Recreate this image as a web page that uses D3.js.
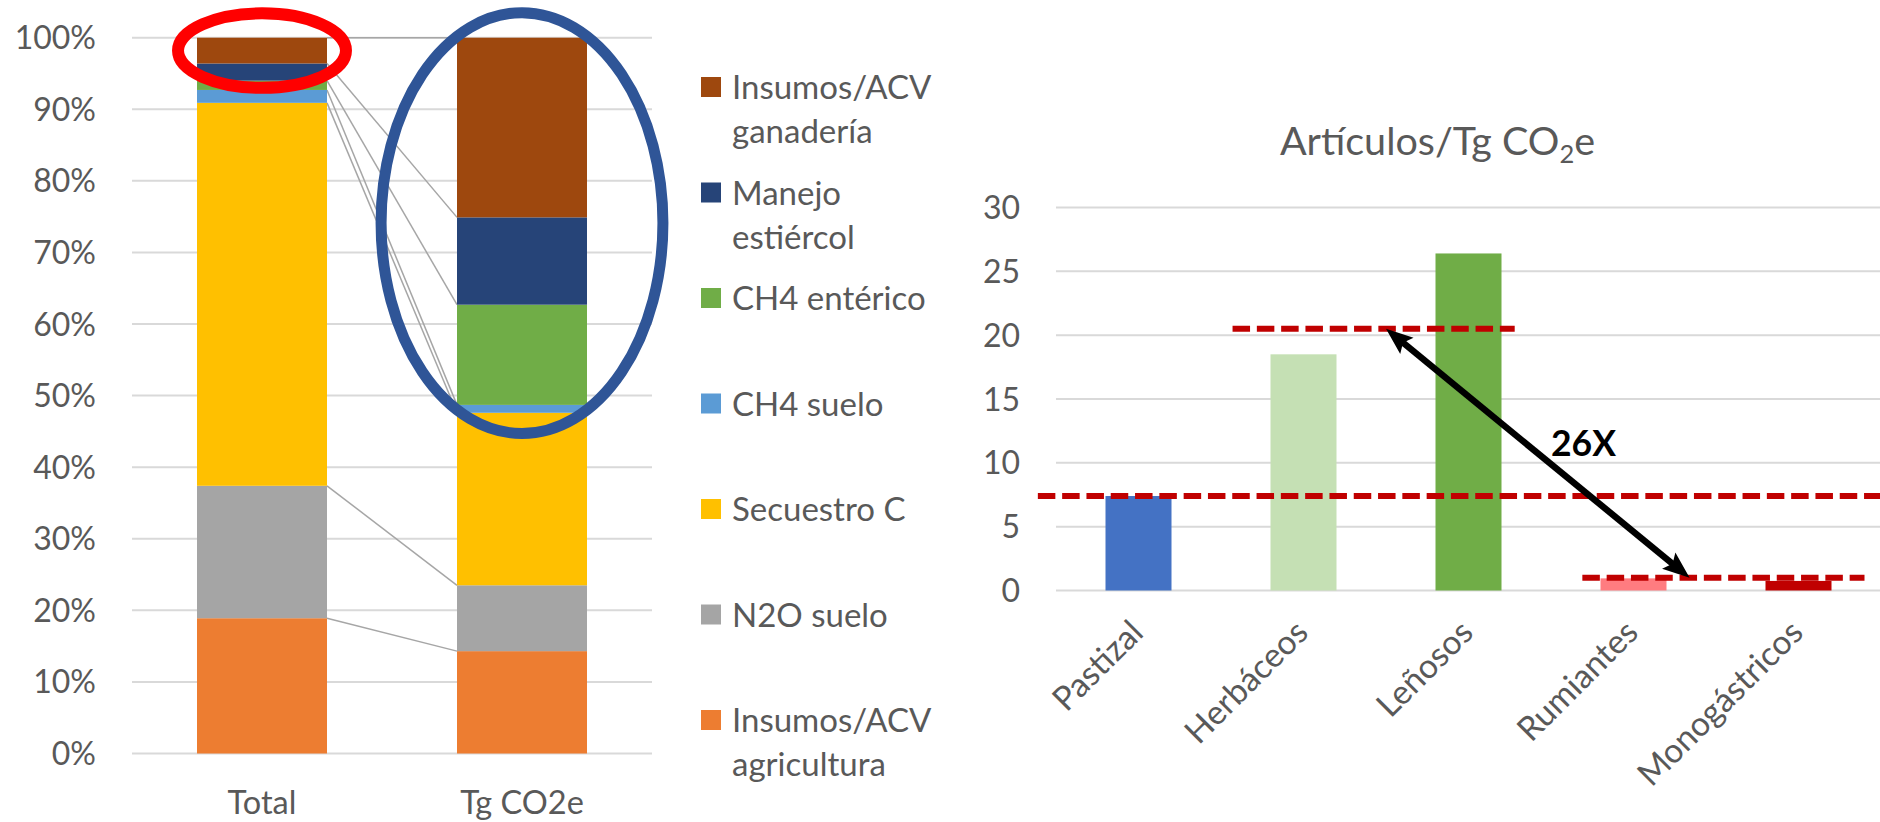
<!DOCTYPE html>
<html>
<head>
<meta charset="utf-8">
<script src="https://cdn.jsdelivr.net/npm/d3@7"></script>
<style>
  html, body { margin: 0; padding: 0; background: #ffffff; }
  svg { display: block; }
  text { font-family: Lato, "Open Sans", sans-serif; fill: #595959; }
</style>
</head>
<body>
<svg id="chart" width="1880" height="822"></svg>
<script>
// ---- Emission shares (percent of each column), bottom to top ----
const stackKeys = ["Insumos/ACV agricultura", "N2O suelo", "Secuestro C", "CH4 suelo",
                   "CH4 entérico", "Manejo estiércol", "Insumos/ACV ganadería"];
const stackColors = ["#ED7D31", "#A5A5A5", "#FFC000", "#5B9BD5", "#70AD47", "#264478", "#9E480E"];
const columnNames = ["Total", "Tg CO2e"];
const shareTotal = [18.9, 18.5, 53.5, 1.8, 1.3, 2.4, 3.6];
const shareTgCO2e = [14.3, 9.2, 24.1, 1.1, 14.0, 12.2, 25.1];
const percentTicks = [0, 10, 20, 30, 40, 50, 60, 70, 80, 90, 100];
// legend entries wrap onto two lines where the label is long (top to bottom)
const legendLines = [["Insumos/ACV", "ganadería"], ["Manejo", "estiércol"], ["CH4 entérico"],
                     ["CH4 suelo"], ["Secuestro C"], ["N2O suelo"], ["Insumos/ACV", "agricultura"]];

// ---- Articles per Tg CO2e by production system ----
const systems = ["Pastizal", "Herbáceos", "Leñosos", "Rumiantes", "Monogástricos"];
const articlesPerTg = [7.4, 18.5, 26.4, 0.95, 0.75];
const systemColors = ["#4472C4", "#C5E0B4", "#70AD47", "#FF7C80", "#C00000"];
const countTicks = [0, 5, 10, 15, 20, 25, 30];

// reference levels (value, start and end expressed in category steps)
const refLevels = [
  { level: 20.5, from: 1.07, to: 2.78 },
  { level: 7.4,  from: -0.11, to: 5.0 },
  { level: 1.0,  from: 3.19, to: 4.9 }
];
const ratioArrow = { from: [2.0, 20.5], to: [3.84, 1.0], label: "26X", labelAt: [3.0, 10.5] };

const svg = d3.select("#chart");

// =================== Left: 100% stacked columns ===================
const xL = d3.scaleBand().domain(columnNames).range([132, 652]).paddingInner(0.5).paddingOuter(0.25);
const yL = d3.scaleLinear().domain([0, 100]).range([753.5, 37.7]);

const left = svg.append("g");
left.selectAll("line.grid").data(percentTicks).join("line")
  .attr("x1", 132).attr("x2", 652)
  .attr("y1", d => yL(d)).attr("y2", d => yL(d))
  .attr("stroke", "#D9D9D9").attr("stroke-width", 2);

left.selectAll("text.tick").data(percentTicks).join("text")
  .attr("x", 96).attr("y", d => yL(d)).attr("dy", "0.36em")
  .attr("text-anchor", "end").style("font-size", "32px")
  .text(d => d + "%");

const rows = columnNames.map((c, i) => {
  const vals = i === 0 ? shareTotal : shareTgCO2e;
  const r = { col: c };
  stackKeys.forEach((k, j) => r[k] = vals[j]);
  return r;
});
const stacked = d3.stack().keys(stackKeys)(rows);

// series lines joining matching segment tops
const xRightOfFirst = xL(columnNames[0]) + xL.bandwidth();
const xLeftOfSecond = xL(columnNames[1]);
left.selectAll("line.series").data(stacked).join("line")
  .attr("x1", xRightOfFirst).attr("x2", xLeftOfSecond)
  .attr("y1", s => yL(s[0][1])).attr("y2", s => yL(s[1][1]))
  .attr("stroke", "#A6A6A6").attr("stroke-width", 1.5);

left.selectAll("g.layer").data(stacked).join("g")
  .attr("fill", (s, i) => stackColors[i])
  .selectAll("rect").data(s => s).join("rect")
  .attr("x", d => xL(d.data.col)).attr("width", xL.bandwidth())
  .attr("y", d => yL(d[1])).attr("height", d => yL(d[0]) - yL(d[1]));

left.selectAll("text.cat").data(columnNames).join("text")
  .attr("x", d => xL(d) + xL.bandwidth() / 2).attr("y", 814)
  .attr("text-anchor", "middle").style("font-size", "32.5px")
  .text(d => d);

// highlight ellipses around the upper segments
const highlights = [
  { col: "Total", value: 98.2, rxStep: 0.323, ryValue: 5.2, color: "#FF0000", width: 12 },
  { col: "Tg CO2e", value: 74.1, rxStep: 0.542, ryValue: 29.4, color: "#2F5597", width: 11 }
];
left.selectAll("ellipse").data(highlights).join("ellipse")
  .attr("cx", d => xL(d.col) + xL.bandwidth() / 2)
  .attr("cy", d => yL(d.value))
  .attr("rx", d => d.rxStep * xL.step())
  .attr("ry", d => yL(0) - yL(d.ryValue))
  .attr("fill", "none").attr("stroke", d => d.color).attr("stroke-width", d => d.width);

// legend
const legendColors = stackColors.slice().reverse();
const legend = svg.append("g").selectAll("g").data(legendLines).join("g")
  .attr("transform", (d, i) => `translate(701, ${87 + i * 105.5})`);
legend.append("rect").attr("x", 0).attr("y", -10).attr("width", 20).attr("height", 20)
  .attr("fill", (d, i) => legendColors[i]);
legend.each(function(lines) {
  const t = d3.select(this).append("text").attr("x", 31).attr("y", 12).style("font-size", "33px");
  lines.forEach((ln, k) => t.append("tspan").attr("x", 31).attr("dy", k === 0 ? 0 : 44).text(ln));
});

// =================== Right: articles per Tg CO2e ===================
const xR = d3.scaleBand().domain(systems).range([1056, 1881]).paddingInner(0.6).paddingOuter(0.3);
const yR = d3.scaleLinear().domain([0, 30]).range([590.5, 207.5]);
const stepX = u => xR.range()[0] + u * xR.step();

const right = svg.append("g");
const title = right.append("text").attr("x", 1437.5).attr("y", 155)
  .attr("text-anchor", "middle").style("font-size", "39.5px");
title.append("tspan").text("Artículos/Tg CO");
title.append("tspan").attr("dy", 8).style("font-size", "25.5px").text("2");
title.append("tspan").attr("dy", -8).text("e");

right.selectAll("line.grid").data(countTicks).join("line")
  .attr("x1", 1056).attr("x2", 1880)
  .attr("y1", d => yR(d)).attr("y2", d => yR(d))
  .attr("stroke", "#D9D9D9").attr("stroke-width", 2);

right.selectAll("text.tick").data(countTicks).join("text")
  .attr("x", 1020).attr("y", d => yR(d)).attr("dy", "0.36em")
  .attr("text-anchor", "end").style("font-size", "32px")
  .text(d => d);

right.selectAll("rect.bar").data(systems).join("rect")
  .attr("x", d => xR(d)).attr("width", xR.bandwidth())
  .attr("y", (d, i) => yR(articlesPerTg[i]))
  .attr("height", (d, i) => yR(0) - yR(articlesPerTg[i]))
  .attr("fill", (d, i) => systemColors[i]);

right.selectAll("text.sys").data(systems).join("text")
  .attr("text-anchor", "end").attr("dy", "0.36em").style("font-size", "33.5px")
  .attr("transform", d => `translate(${xR(d) + xR.bandwidth() / 2 - 2}, 626) rotate(-45)`)
  .text(d => d);

right.selectAll("line.ref").data(refLevels).join("line")
  .attr("x1", d => stepX(d.from)).attr("x2", d => stepX(d.to))
  .attr("y1", d => yR(d.level)).attr("y2", d => yR(d.level))
  .attr("stroke", "#C00000").attr("stroke-width", 6).attr("stroke-dasharray", "17.5 6.8");

// double-headed arrow between the two levels
const p0 = [stepX(ratioArrow.from[0]), yR(ratioArrow.from[1])];
const p1 = [stepX(ratioArrow.to[0]), yR(ratioArrow.to[1])];
const ang = Math.atan2(p1[1] - p0[1], p1[0] - p0[0]);
const headLen = 27, headHalf = 10.5, notch = 5;
function head(tip, dir) {
  const ux = Math.cos(dir), uy = Math.sin(dir), nx = -uy, ny = ux;
  const bx = tip[0] - ux * headLen, by = tip[1] - uy * headLen;
  return [
    tip,
    [bx + nx * headHalf, by + ny * headHalf],
    [bx + ux * notch, by + uy * notch],
    [bx - nx * headHalf, by - ny * headHalf]
  ];
}
right.append("line")
  .attr("x1", p0[0] + Math.cos(ang) * (headLen - 6)).attr("y1", p0[1] + Math.sin(ang) * (headLen - 6))
  .attr("x2", p1[0] - Math.cos(ang) * (headLen - 6)).attr("y2", p1[1] - Math.sin(ang) * (headLen - 6))
  .attr("stroke", "#000").attr("stroke-width", 6.5);
right.selectAll("polygon.head").data([head(p0, ang + Math.PI), head(p1, ang)]).join("polygon")
  .attr("points", d => d.map(p => p.join(",")).join(" "))
  .attr("fill", "#000");
right.append("text")
  .attr("x", stepX(ratioArrow.labelAt[0])).attr("y", yR(ratioArrow.labelAt[1]))
  .style("font-size", "35.5px").style("font-weight", "bold").style("fill", "#000")
  .text(ratioArrow.label);
</script>
</body>
</html>
